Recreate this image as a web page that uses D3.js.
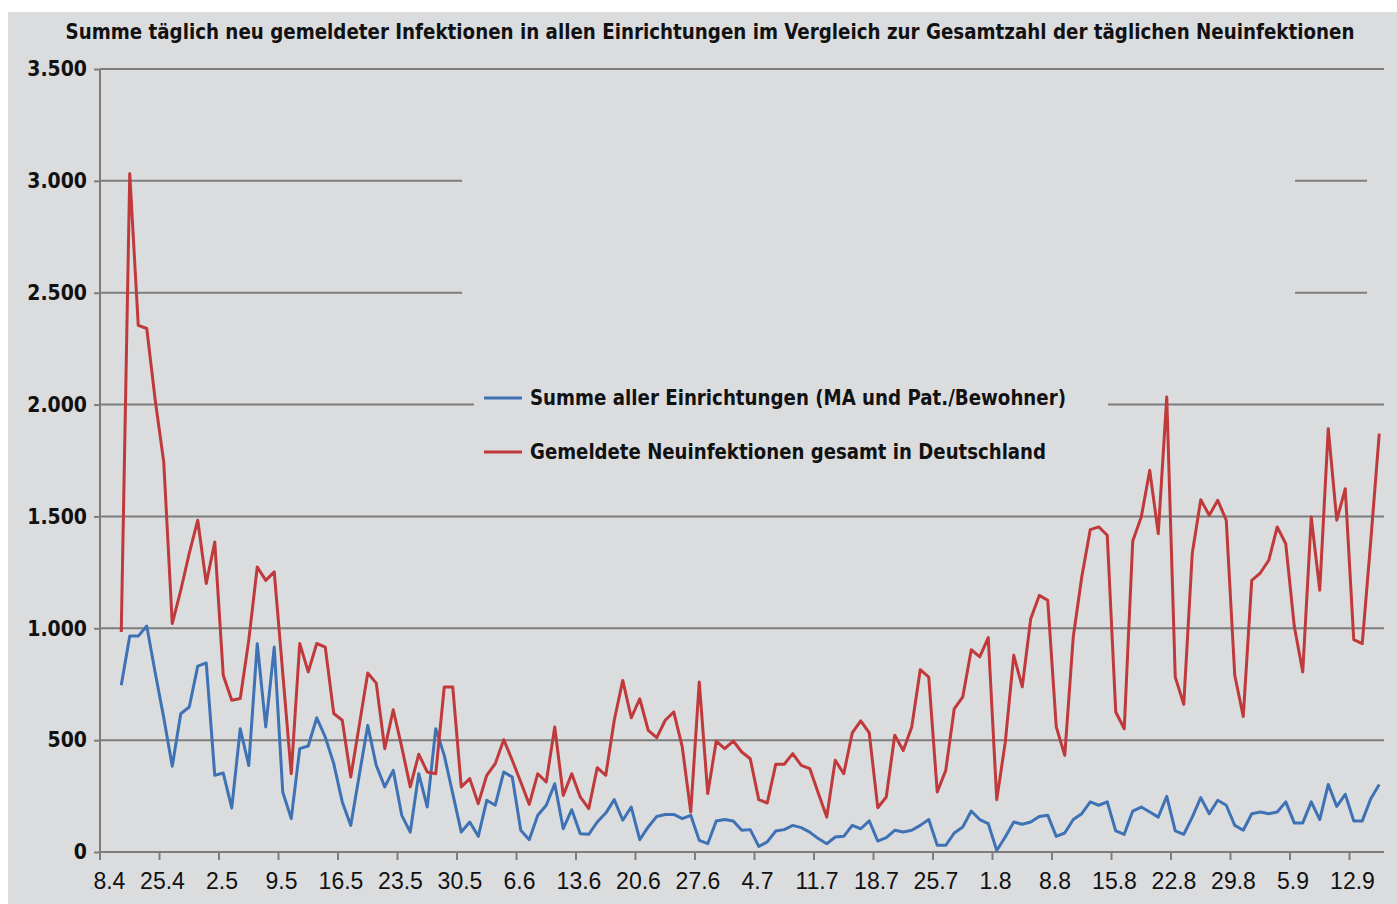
<!DOCTYPE html>
<html>
<head>
<meta charset="utf-8">
<script src="https://cdn.jsdelivr.net/npm/d3@7"></script>
<style>
  body { margin: 0; background: #fff; }
  svg { display: block; }
  .bold { font-family: 'DejaVu Sans Condensed', 'DejaVu Sans', sans-serif; font-stretch: condensed; font-weight: bold; fill: #111; }
  .narrow { font-family: 'Liberation Sans Narrow', 'Liberation Sans', sans-serif; fill: #111; }
</style>
</head>
<body>
<svg id="chart"></svg>
<script>
// daily categories 18.4. – 15.9., ticks every 7 days
var firstDay = new Date(2020, 3, 18),
    lastDay = new Date(2020, 8, 16)
var tickLabels = ['18.4','25.4','2.5','9.5','16.5','23.5','30.5','6.6','13.6','20.6','27.6',
                  '4.7','11.7','18.7','25.7','1.8','8.8','15.8','22.8','29.8','5.9','12.9']
var seriesStart = '20.4'
var yTicks = [0, 500, 1000, 1500, 2000, 2500, 3000, 3500]

var seriesNames = ['Summe aller Einrichtungen (MA und Pat./Bewohner)',
                   'Gemeldete Neuinfektionen gesamt in Deutschland']

// Summe aller Einrichtungen, ab 20.4.
var einrichtungen = [745,965,965,1010,800,600,383,618,648,831,845,
  343,353,197,551,387,931,559,916,268,149,
  462,474,600,514,395,224,119,343,566,387,
  291,365,164,89,350,201,551,432,261,89,
  134,70,231,209,358,335,97,55,164,209,
  305,104,189,82,79,134,174,234,142,201,
  55,112,159,168,168,149,164,52,37,139,
  145,139,97,100,25,45,94,100,119,109,
  89,60,37,67,70,119,104,139,49,64,
  97,89,97,119,145,30,30,85,112,183,
  145,127,7,67,134,124,134,159,164,70,
  85,145,171,224,209,224,94,79,183,201,
  179,156,249,94,79,156,243,171,231,209,
  119,97,171,179,171,179,224,130,130,224,
  145,302,204,258,139,139,238,302]

// Neuinfektionen Deutschland, ab 20.4.
var deutschland = [983,3032,2354,2340,2019,1743,1021,1170,1335,1483,1200,
  1386,790,678,686,946,1274,1214,1252,800,350,
  932,805,932,916,619,589,335,566,800,755,
  462,636,469,291,437,358,350,738,738,291,
  328,216,343,395,502,410,313,213,350,313,
  559,253,350,246,194,377,343,589,767,600,
  685,544,511,589,626,470,179,760,261,496,
  462,496,447,417,234,219,392,392,440,387,
  373,264,156,410,350,532,586,532,198,246,
  522,454,559,815,782,268,365,640,693,904,
  872,958,234,490,879,738,1043,1147,1125,559,
  432,961,1229,1441,1453,1416,626,551,1390,1497,
  1706,1423,2034,782,660,1334,1575,1505,1572,1483,
  790,606,1214,1247,1304,1453,1378,1010,805,1497,
  1170,1892,1483,1624,949,931,1390,1870]

var colors = ['#3e72b4', '#c0393b']
var bg = '#dbdcde', gridColor = '#7d7d7d'

var width = 1397, height = 904
var svg = d3.select('#chart').attr('width', width).attr('height', height)

var fmtDay = d3.timeFormat('%-d.%-m')
var days = d3.timeDay.range(firstDay, lastDay).map(fmtDay)
var startIdx = days.indexOf(seriesStart)

var de = d3.formatLocale({decimal: ',', thousands: '.', grouping: [3], currency: ['', ' €']})
var fmtNum = de.format(',')

var x = d3.scaleBand().domain(days).range([100, 1383.5]).padding(0)
var y = d3.scaleLinear().domain([0, 3500]).range([852, 69])

svg.append('rect').attr('x', 8).attr('y', 12).attr('width', width - 8).attr('height', height - 12).attr('fill', bg)

svg.append('text').attr('class', 'bold')
    .attr('x', 710).attr('y', 39)
    .attr('text-anchor', 'middle')
    .attr('font-size', 21)
    .attr('textLength', 1289).attr('lengthAdjust', 'spacingAndGlyphs')
    .text('Summe täglich neu gemeldeter Infektionen in allen Einrichtungen im Vergleich zur Gesamtzahl der täglichen Neuinfektionen')

// gridlines
svg.append('g').selectAll('line').data(yTicks.filter(d => d > 0)).join('line')
    .attr('x1', 100).attr('x2', 1384)
    .attr('y1', d => y(d)).attr('y2', d => y(d))
    .attr('stroke', gridColor).attr('stroke-width', 2)

// the source has parts of the 2.500 / 3.000 lines hidden
svg.append('rect').attr('x', 462).attr('y', y(3000) - 8).attr('width', 1295 - 462).attr('height', y(2500) - y(3000) + 16).attr('fill', bg)
svg.append('rect').attr('x', 1367).attr('y', y(3000) - 8).attr('width', 20).attr('height', y(2500) - y(3000) + 16).attr('fill', bg)

// y axis
var yAxis = svg.append('g').attr('transform', 'translate(100,0)')
    .call(d3.axisLeft(y).tickValues(yTicks).tickSize(6).tickPadding(7).tickFormat(fmtNum))
yAxis.select('.domain').attr('stroke', gridColor).attr('stroke-width', 2).attr('d', 'M0,' + y(3500) + 'V860')
yAxis.selectAll('.tick line').attr('stroke', gridColor).attr('stroke-width', 2)
yAxis.selectAll('.tick text').attr('class', 'bold').attr('font-size', 21).attr('fill', '#111')

// x axis
var xAxis = svg.append('g')
xAxis.append('line').attr('x1', 100).attr('x2', 1384).attr('y1', y(0)).attr('y2', y(0))
    .attr('stroke', gridColor).attr('stroke-width', 2)
xAxis.selectAll('.xt').data(tickLabels).join('line').attr('class', 'xt')
    .attr('x1', d => x(d)).attr('x2', d => x(d))
    .attr('y1', y(0)).attr('y2', y(0) + 8)
    .attr('stroke', gridColor).attr('stroke-width', 2)
svg.append('clipPath').attr('id', 'xclip').append('rect').attr('x', 92).attr('y', 860).attr('width', 1300).attr('height', 44)
xAxis.append('g').attr('clip-path', 'url(#xclip)')
    .selectAll('text').data(tickLabels).join('text').attr('class', 'narrow')
    .attr('x', d => x(d) + 3).attr('y', 889)
    .attr('text-anchor', 'middle').attr('font-size', 23)
    .text(d => d)

// lines
var line = d3.line()
    .x((d, i) => x(days[startIdx + i]) + x.bandwidth() / 2)
    .y(d => y(d))

;[einrichtungen, deutschland].forEach((s, k) => {
    svg.append('path').datum(s)
        .attr('fill', 'none')
        .attr('stroke', colors[k]).attr('stroke-width', 3)
        .attr('stroke-linejoin', 'round')
        .attr('d', line)
})

// legend
var legend = svg.append('g')
legend.append('rect').attr('x', 474).attr('y', 372).attr('width', 1108 - 474).attr('height', 104).attr('fill', bg)
var legendRows = legend.selectAll('g').data(seriesNames).join('g')
    .attr('transform', (d, i) => 'translate(484,' + (398 + i * 54) + ')')
legendRows.append('line').attr('x1', 0).attr('x2', 38)
    .attr('stroke', (d, i) => colors[i]).attr('stroke-width', 3)
legendRows.append('text').attr('class', 'bold')
    .attr('x', 46).attr('y', 7).attr('font-size', 21)
    .attr('textLength', (d, i) => i === 0 ? 536 : 516).attr('lengthAdjust', 'spacingAndGlyphs')
    .text(d => d)
</script>
</body>
</html>
